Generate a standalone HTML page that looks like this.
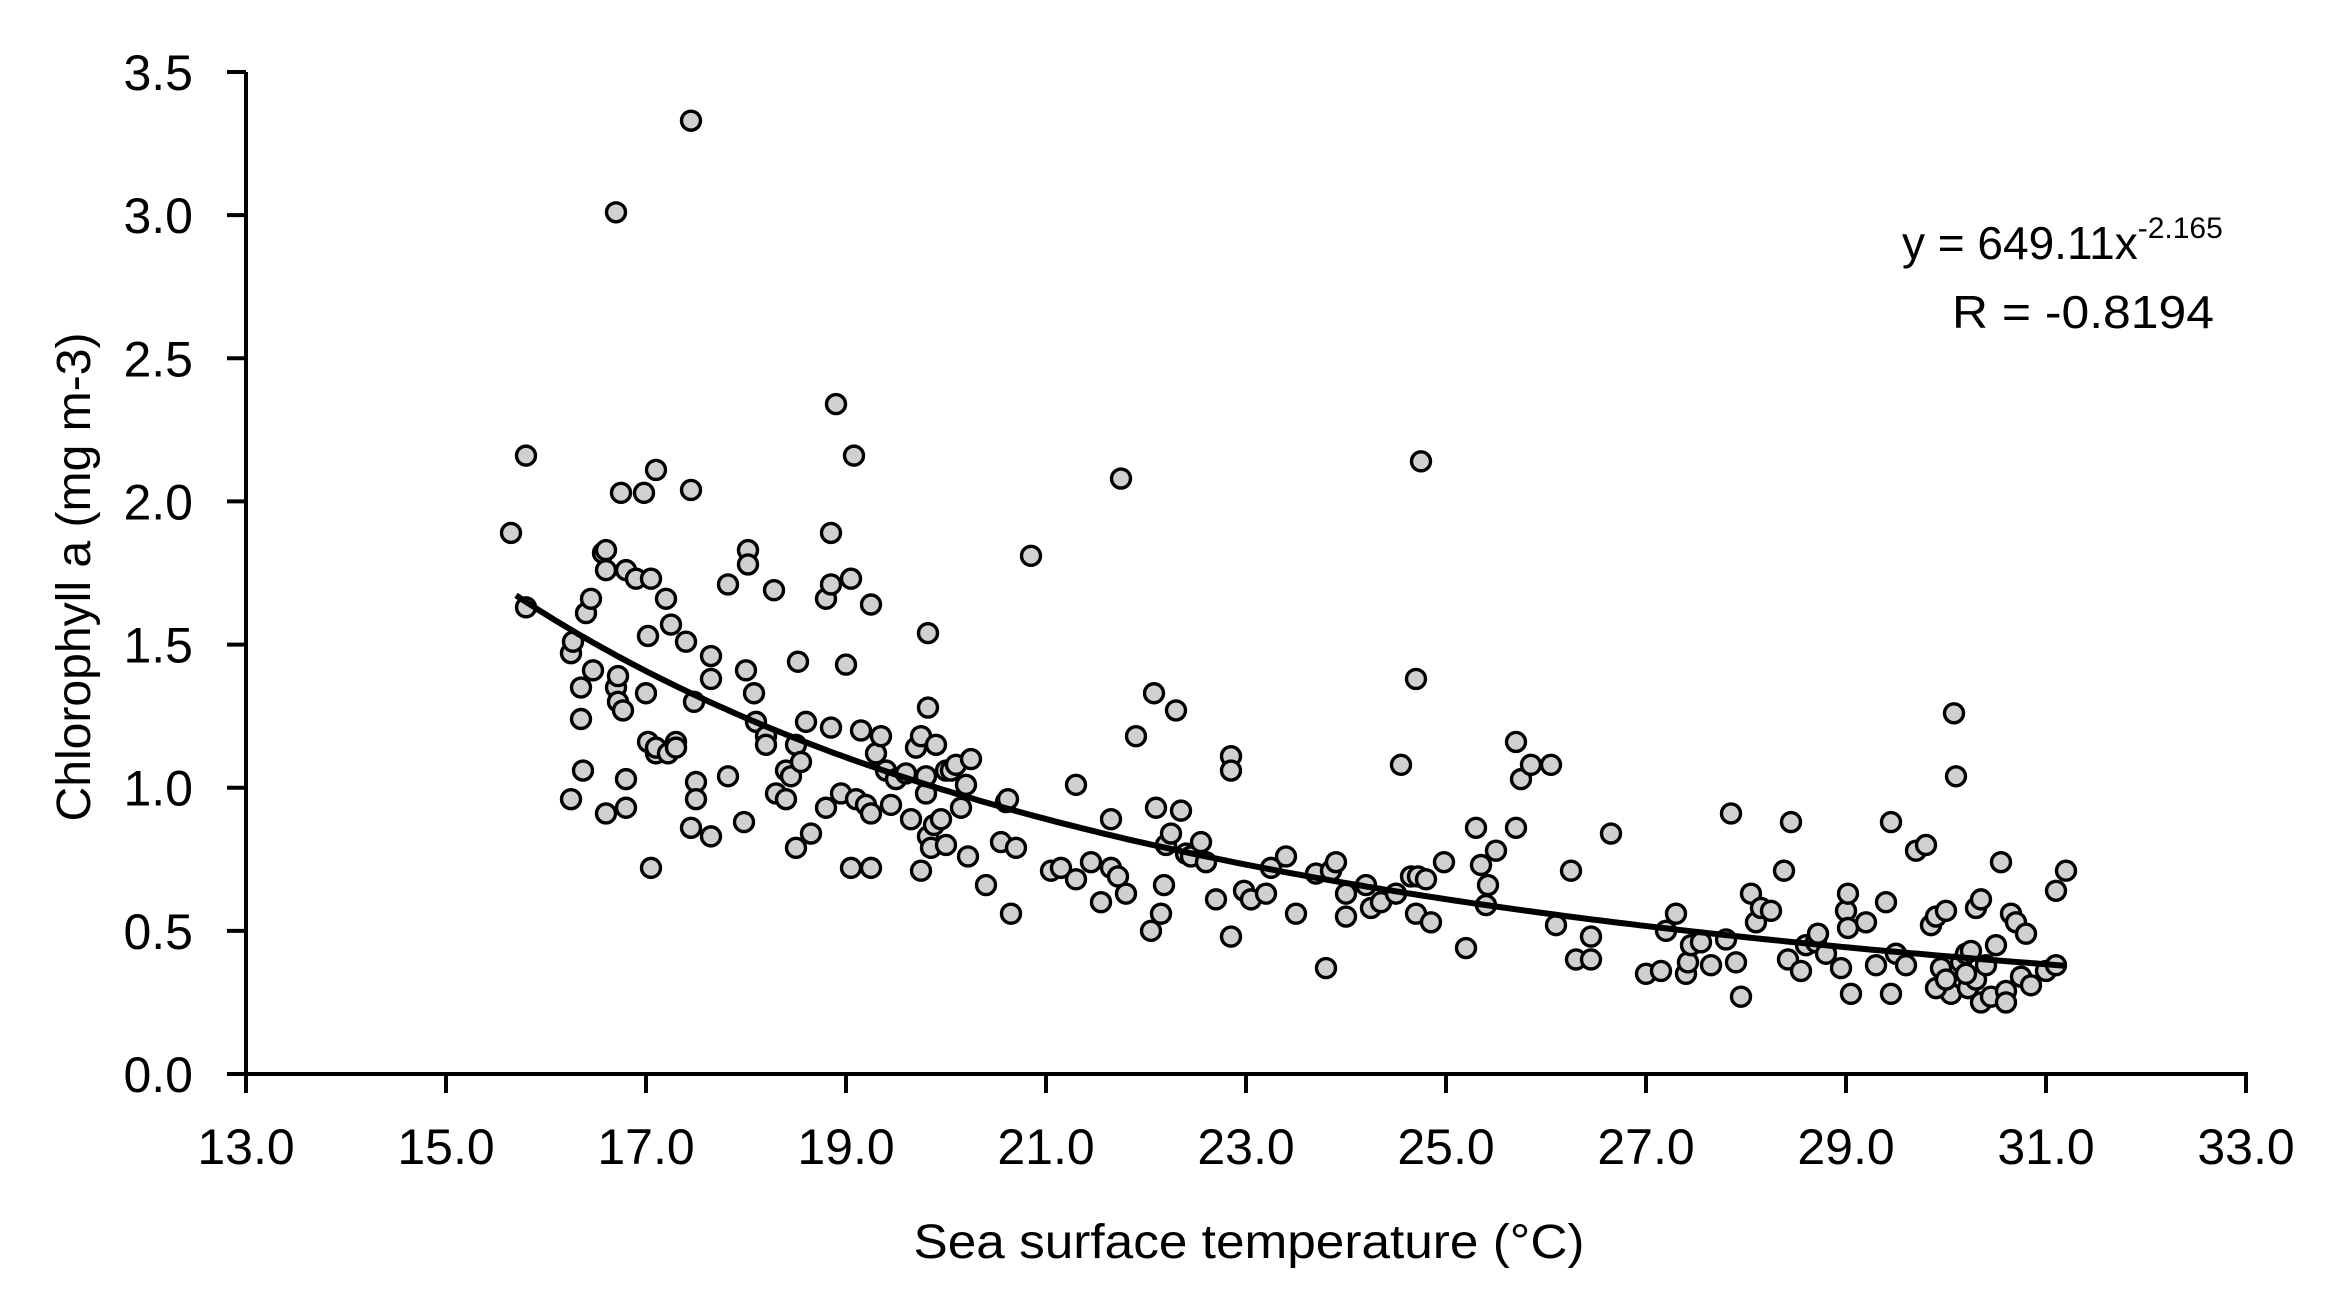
<!DOCTYPE html>
<html><head><meta charset="utf-8"><style>
html,body{margin:0;padding:0;background:#fff;}
svg{display:block;font-family:"Liberation Sans",sans-serif;}
</style></head><body>
<svg id="chart" width="2348" height="1305" viewBox="0 0 2348 1305" xmlns="http://www.w3.org/2000/svg">
<rect width="2348" height="1305" fill="#fff"/>
<g id="marks"></g>
<path id="trend" fill="none" stroke="#000" stroke-width="6"/>
<g id="axes"></g>
<text x="1249" y="1258" font-size="48" text-anchor="middle" textLength="671" lengthAdjust="spacingAndGlyphs">Sea surface temperature (°C)</text>
<text transform="translate(90,577) rotate(-90)" font-size="48" text-anchor="middle" textLength="489" lengthAdjust="spacingAndGlyphs">Chlorophyll a  (mg m-3)</text>
<text x="1902" y="259" font-size="46">y = 649.11x<tspan dy="-21" font-size="30">-2.165</tspan></text>
<text x="1952" y="328" font-size="46" textLength="262" lengthAdjust="spacingAndGlyphs">R = -0.8194</text>
</svg>
<script>
const xTicks=[13,15,17,19,21,23,25,27,29,31,33];
const yTicks=[0,0.5,1,1.5,2,2.5,3,3.5];
const sstValues=[15.65,15.8,15.8,16.25,16.25,16.27,16.35,16.35,16.37,16.4,16.45,16.47,16.57,16.6,16.6,16.6,16.7,16.7,16.72,16.72,16.75,16.77,16.8,16.8,16.8,16.9,16.98,17.0,17.02,17.02,17.05,17.05,17.1,17.1,17.1,17.2,17.22,17.25,17.3,17.3,17.4,17.45,17.45,17.45,17.48,17.5,17.5,17.65,17.65,17.65,17.82,17.82,17.98,18.0,18.02,18.02,18.08,18.1,18.2,18.2,18.28,18.3,18.4,18.4,18.45,18.5,18.5,18.52,18.55,18.6,18.65,18.8,18.8,18.85,18.85,18.85,18.9,18.95,19.0,19.05,19.05,19.08,19.1,19.15,19.2,19.25,19.25,19.25,19.3,19.35,19.4,19.45,19.5,19.6,19.65,19.7,19.75,19.75,19.8,19.8,19.82,19.82,19.82,19.85,19.88,19.9,19.95,20.0,20.0,20.05,20.1,20.15,20.2,20.22,20.25,20.4,20.55,20.6,20.62,20.65,20.7,20.85,21.05,21.15,21.3,21.3,21.45,21.55,21.65,21.65,21.72,21.75,21.8,21.9,22.05,22.08,22.1,22.15,22.18,22.2,22.25,22.3,22.35,22.4,22.45,22.55,22.6,22.7,22.85,22.85,22.85,22.98,23.05,23.2,23.25,23.4,23.5,23.7,23.8,23.85,23.9,24.0,24.0,24.2,24.25,24.35,24.5,24.55,24.65,24.7,24.7,24.72,24.75,24.8,24.85,24.98,25.2,25.3,25.35,25.4,25.42,25.5,25.7,25.7,25.75,25.85,26.05,26.1,26.25,26.3,26.45,26.45,26.65,27.0,27.15,27.2,27.3,27.4,27.42,27.45,27.55,27.65,27.8,27.85,27.9,27.95,28.05,28.1,28.15,28.25,28.38,28.42,28.45,28.55,28.6,28.7,28.72,28.8,28.95,29.0,29.02,29.02,29.05,29.2,29.3,29.4,29.45,29.45,29.5,29.6,29.7,29.8,29.85,29.9,29.95,30.0,30.05,30.08,30.1,30.15,30.2,30.22,30.25,30.3,30.3,30.35,30.35,30.4,30.45,30.5,30.55,30.6,30.6,30.65,30.7,30.75,30.8,30.85,31.0,31.1,31.2,31.1,30.2,29.9,30.0];
const chlValues=[1.89,2.16,1.63,0.96,1.47,1.51,1.35,1.24,1.06,1.61,1.66,1.41,1.82,1.76,1.83,0.91,3.01,1.35,1.39,1.30,2.03,1.27,0.93,1.03,1.76,1.73,2.03,1.33,1.53,1.16,0.72,1.73,1.12,2.11,1.14,1.66,1.12,1.57,1.16,1.14,1.51,2.04,3.33,0.86,1.30,1.02,0.96,1.46,1.38,0.83,1.71,1.04,0.88,1.41,1.83,1.78,1.33,1.23,1.18,1.15,1.69,0.98,0.96,1.06,1.04,1.15,0.79,1.44,1.09,1.23,0.84,0.93,1.66,1.21,1.71,1.89,2.34,0.98,1.43,1.73,0.72,2.16,0.96,1.2,0.94,1.64,0.91,0.72,1.12,1.18,1.06,0.94,1.03,1.05,0.89,1.14,1.18,0.71,0.98,1.04,1.28,1.54,0.83,0.79,0.87,1.15,0.89,0.8,1.06,1.06,1.08,0.93,1.01,0.76,1.1,0.66,0.81,0.95,0.96,0.56,0.79,1.81,0.71,0.72,1.01,0.68,0.74,0.6,0.89,0.72,0.69,2.08,0.63,1.18,0.5,1.33,0.93,0.56,0.66,0.8,0.84,1.27,0.92,0.77,0.76,0.81,0.74,0.61,1.11,1.06,0.48,0.64,0.61,0.63,0.72,0.76,0.56,0.7,0.37,0.71,0.74,0.63,0.55,0.66,0.58,0.6,0.63,1.08,0.69,1.38,0.56,0.69,2.14,0.68,0.53,0.74,0.44,0.86,0.73,0.59,0.66,0.78,0.86,1.16,1.03,1.08,1.08,0.52,0.71,0.4,0.4,0.48,0.84,0.35,0.36,0.5,0.56,0.35,0.39,0.45,0.46,0.38,0.47,0.91,0.39,0.27,0.63,0.53,0.58,0.57,0.71,0.4,0.88,0.36,0.45,0.46,0.49,0.42,0.37,0.57,0.63,0.51,0.28,0.53,0.38,0.6,0.88,0.28,0.42,0.38,0.78,0.8,0.52,0.55,0.37,0.57,0.28,1.26,1.04,0.39,0.42,0.3,0.43,0.58,0.33,0.61,0.25,0.38,0.27,0.45,0.74,0.29,0.25,0.56,0.53,0.34,0.49,0.31,0.36,0.64,0.71,0.38,0.35,0.3,0.33];
const trendCoef=649.11, trendExp=-2.165, trendRange=[15.7,31.2];

const NS='http://www.w3.org/2000/svg';
const X0=246,X1=2246,Y0=1074,Y1=72;
function sx(v){return X0+(v-13)/(33-13)*(X1-X0);}
function sy(v){return Y0-(v-0)/(3.5-0)*(Y0-Y1);}
function mk(tag,attrs){const e=document.createElementNS(NS,tag);for(const k in attrs)e.setAttribute(k,attrs[k]);return e;}

const marks=document.getElementById('marks');
for(let i=0;i<sstValues.length;i++){
  const c=mk('circle',{cx:sx(sstValues[i]),cy:sy(chlValues[i]),r:9.5,fill:'#d0d0d0',stroke:'#000','stroke-width':3.4});
  
  
  marks.appendChild(c);
}
let d='';
for(let k=0;k<=200;k++){const x=trendRange[0]+(trendRange[1]-trendRange[0])*k/200;const y=trendCoef*Math.pow(x,trendExp);d+=(k?'L':'M')+sx(x).toFixed(1)+','+sy(y).toFixed(1);}
document.getElementById('trend').setAttribute('d',d);

const axes=document.getElementById('axes');
const ya=mk('line',{x1:X0,y1:Y1,x2:X0,y2:Y0+2,stroke:'#000','stroke-width':4});


axes.appendChild(ya);
const xa=mk('line',{x1:X0-2,y1:Y0,x2:X1+2,y2:Y0,stroke:'#000','stroke-width':4});


axes.appendChild(xa);
xTicks.forEach(v=>{
  const t=mk('line',{x1:sx(v),y1:Y0,x2:sx(v),y2:Y0+19,stroke:'#000','stroke-width':4});
  
  
  axes.appendChild(t);
  const l=mk('text',{x:sx(v),y:Y0+90,'font-size':50,'text-anchor':'middle'});
  l.textContent=v.toFixed(1);
  
  
  axes.appendChild(l);
});
yTicks.forEach(v=>{
  const t=mk('line',{x1:X0-19,y1:sy(v),x2:X0,y2:sy(v),stroke:'#000','stroke-width':4});
  
  
  axes.appendChild(t);
  const l=mk('text',{x:193,y:sy(v)+18,'font-size':50,'text-anchor':'end'});
  l.textContent=v.toFixed(1);
  
  
  axes.appendChild(l);
});
</script>
</body></html>
